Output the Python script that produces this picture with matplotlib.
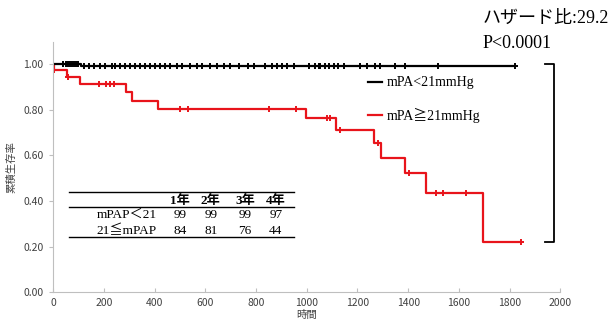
import numpy as np
import matplotlib.pyplot as plt

# Kaplan-Meier style step data
red_times = [0, 3, 54, 106, 288, 312, 413, 998, 1115, 1266, 1294, 1386, 1469, 1695, 1846]
red_surv = [1.0, 0.974, 0.944, 0.915, 0.878, 0.841, 0.806, 0.765, 0.714, 0.653, 0.587, 0.523, 0.434, 0.220, 0.220]
red_cens = [3, 58, 181, 209, 225, 239, 501, 530, 852, 957, 1081, 1093, 1132, 1279, 1405,
            1510, 1537, 1628, 1846]

blk_times = [0, 108, 1820]
blk_surv = [1.0, 0.993, 0.993]
blk_cens = [40, 50, 58, 66, 74, 82, 90, 98,
            120, 139, 159, 185, 205, 231, 245, 264, 284, 304, 323, 343, 363, 383, 402,
            422, 442, 462, 488, 508, 540, 567, 587, 619, 646, 672, 698, 731, 770, 790,
            836, 863, 882, 902, 922, 948, 1007, 1034, 1047, 1053, 1073, 1086, 1106, 1125,
            1145, 1211, 1237, 1270, 1290, 1346, 1386, 1517, 1820]

years = ["1年", "2年", "3年", "4年"]
groups = ["mPAP＜21", "21≦mPAP"]
rates = [[99, 99, 99, 97], [84, 81, 76, 44]]

labels = ["mPA<21mmHg", "mPA≧21mmHg"]
serif = ["Liberation Serif", "Noto Sans CJK JP", "DejaVu Sans"]
sans = ["Noto Sans CJK JP", "DejaVu Sans"]


def surv_at(times, surv, t):
    i = np.searchsorted(times, t, side="right") - 1
    return np.array(surv)[i]


fig = plt.figure(figsize=(6.1, 3.21), dpi=100)
ax = fig.add_axes([0.0874, 0.0903, 0.8311, 0.7797])

ax.step(red_times, red_surv, where="post", color="#e8141b", lw=1.6)
ax.step(blk_times, blk_surv, where="post", color="black", lw=1.6)
ax.plot(red_cens, surv_at(red_times, red_surv, red_cens), ls="none",
        marker="+", ms=4, mew=1.4, color="#e8141b")
ax.plot(blk_cens, surv_at(blk_times, blk_surv, blk_cens), ls="none",
        marker="+", ms=4, mew=1.4, color="black")

ax.set_xlim(0, 2000)
ax.set_ylim(0, 1.1)
ax.set_xticks(np.arange(0, 2001, 200))
ax.set_yticks(np.arange(0, 1.01, 0.2))
ax.set_yticklabels([f"{v:.2f}" for v in np.arange(0, 1.01, 0.2)])
for s in ["top", "right"]:
    ax.spines[s].set_visible(False)
for s in ["left", "bottom"]:
    ax.spines[s].set_color("#bfbfbf")
ax.tick_params(axis="y", direction="out", length=3, color="#bfbfbf", labelsize=7.5,
               labelcolor="#404040", pad=4)
ax.tick_params(axis="x", direction="in", length=3, color="#bfbfbf", labelsize=7.5,
               labelcolor="#404040", pad=4)
for lb in ax.get_xticklabels() + ax.get_yticklabels():
    lb.set_family(sans)

ax.set_ylabel("累積生存率", family=sans, fontsize=7.5, color="#404040", labelpad=5)
ax.text(1000, -0.1, "時間", family=sans, fontsize=7.5, color="#404040",
        ha="center", va="center", clip_on=False)

# legend drawn by hand
for y, c, lab in [(0.922, "black", labels[0]), (0.778, "#e8141b", labels[1])]:
    ax.plot([1240, 1296], [y, y], color=c, lw=1.6)
    ax.text(1316, y, lab, family=serif, fontsize=10, va="center", ha="left")

# bracket
ax.plot([1940, 1976, 1976, 1940], [1.0, 1.0, 0.218, 0.218], color="black", lw=1.3)

# table
for y in [0.438, 0.372, 0.240]:
    ax.plot([63, 950], [y, y], color="black", lw=1.0)
col_x = [500, 621, 756, 878]
for x, yr in zip(col_x, years):
    ax.text(x, 0.402, yr, family=serif, fontsize=9.5, weight="bold", ha="center", va="center")
for y, g, row in zip([0.338, 0.269], groups, rates):
    ax.text(408, y, g, family=serif, fontsize=9.5, ha="right", va="center")
    for x, v in zip(col_x, row):
        ax.text(x, y, str(v), family=serif, fontsize=9.5, ha="center", va="center")

fig.text(483 / 610, 1 - 18 / 321, "ハザード比:29.2", family=serif, fontsize=13, va="center")
fig.text(483 / 610, 1 - 43 / 321, "P<0.0001", family=serif, fontsize=13, va="center")

fig.savefig("out.png", dpi=100)
